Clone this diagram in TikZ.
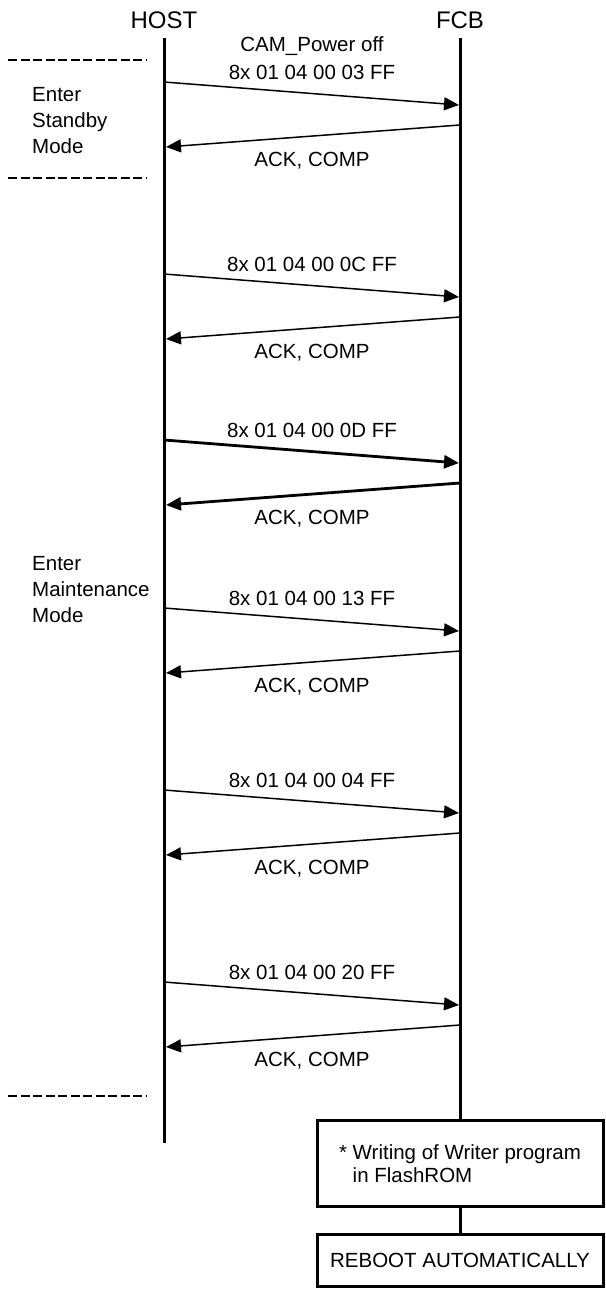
\documentclass[tikz,border=0pt]{standalone}
\usepackage{fontspec}
\setmainfont{Liberation Sans}
\usetikzlibrary{positioning, arrows.meta}

\begin{document}
\begin{tikzpicture}[x=1pt, y=-1pt,
	every node/.style={font=\fontsize{20.5}{26}\selectfont, inner sep=0pt},
	header/.style={font=\fontsize{24}{28}\selectfont},
	life/.style={line width=3pt},
	msg/.style={line width=1.5pt, -{Triangle[length=15pt, width=13pt]}},
	bold msg/.style={msg, line width=2.8pt},
	sep/.style={line width=2pt, dash pattern=on 9pt off 3.5pt},
	stepbox/.style={draw, line width=3pt, minimum width=286pt, align=left}]
\useasboundingbox (0,0) rectangle (605,1289);
\node[header] (host) at (164,20) {HOST};
\node[header] (fcb) at (460,20) {FCB};
\coordinate (host top) at (164,38);
\coordinate (host end) at (164,1143);
\coordinate (fcb top) at (460,38);
\draw[life] (host top) -- (host end);
\foreach \y in {60, 178, 1096}
	\draw[sep] (8,\y) -- (146,\y);
\node[align=left, anchor=west] (standby) at (32,121) {Enter\\Standby\\Mode};
\node[align=left, anchor=west] (maint) at (32,590) {Enter\\Maintenance\\Mode};
\node (cam) at (312,46) {CAM\_Power off};
\foreach \i/\y/\code/\s in {1/82/03/msg, 2/274/0C/msg, 3/440/0D/bold msg, 4/608/13/msg, 5/790/04/msg, 6/982/20/msg} {
	\node (cmd\i) at (312,\y-10) {8x 01 04 00 \code\ FF};
	\coordinate (h\i) at (164,\y);
	\coordinate (f\i) at (459,\y+23);
	\coordinate (g\i) at (460,\y+43);
	\coordinate (k\i) at (166,\y+65);
	\draw[\s] (h\i) -- (f\i);
	\draw[\s] (g\i) -- (k\i);
	\node (ack\i) at (312,\y+79) {ACK, COMP};
}
\node[stepbox, minimum height=86pt, font=\fontsize{20.5}{23.5}\selectfont] (write) at (460,1163.5)
	{* Writing of Writer program\\\hphantom{* }in FlashROM};
\node[stepbox, minimum height=52pt] (reboot) at (460,1260.5) {REBOOT AUTOMATICALLY};
\draw[life] (fcb top) -- (write);
\draw[life] (write) -- (reboot);
\end{tikzpicture}
\end{document}
